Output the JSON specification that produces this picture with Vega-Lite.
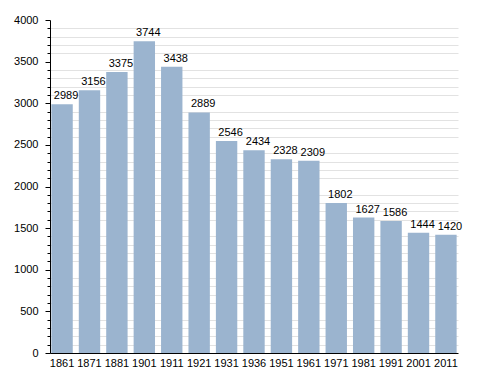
{
  "$schema": "https://vega.github.io/schema/vega-lite/v6.json",
  "width": 408,
  "height": 333,
  "autosize": {"type": "none"},
  "padding": {"left": 50, "top": 20, "right": 30, "bottom": 20},
  "background": "white",
  "config": {"view": {"stroke": null}, "font": "Liberation Sans"},
  "data": {"values": [
    {"year": "1861", "pop": 2989},
    {"year": "1871", "pop": 3156},
    {"year": "1881", "pop": 3375},
    {"year": "1901", "pop": 3744},
    {"year": "1911", "pop": 3438},
    {"year": "1921", "pop": 2889},
    {"year": "1931", "pop": 2546},
    {"year": "1936", "pop": 2434},
    {"year": "1951", "pop": 2328},
    {"year": "1961", "pop": 2309},
    {"year": "1971", "pop": 1802},
    {"year": "1981", "pop": 1627},
    {"year": "1991", "pop": 1586},
    {"year": "2001", "pop": 1444},
    {"year": "2011", "pop": 1420}
  ]},
  "encoding": {
    "x": {
      "field": "year", "type": "ordinal", "sort": null,
      "scale": {"paddingInner": 0.22, "paddingOuter": 0.05},
      "axis": {"title": null, "labelAngle": 0, "ticks": false, "domainColor": "black", "labelColor": "black", "labelFontSize": 11, "labelPadding": 4}
    }
  },
  "layer": [
    {
      "mark": {"type": "text", "baseline": "bottom", "dy": -3, "dx": 4, "fontSize": 11, "color": "black"},
      "encoding": {
        "y": {"field": "pop", "type": "quantitative", "scale": {"domain": [0, 4000], "nice": false},
          "axis": {"orient": "left", "title": null, "values": [100,200,300,400,600,700,800,900,1100,1200,1300,1400,1600,1700,1800,1900,2100,2200,2300,2400,2600,2700,2800,2900,3100,3200,3300,3400,3600,3700,3800,3900],
            "labels": false, "domain": false, "tickSize": 3, "tickColor": "black", "gridColor": "#e2e2e2", "gridWidth": 1}},
        "text": {"field": "pop", "type": "quantitative", "format": "d"}
      }
    },
    {
      "mark": {"type": "bar", "color": "#9bb4cf"},
      "encoding": {
        "y": {"field": "pop", "type": "quantitative", "scale": {"domain": [0, 4000], "nice": false},
          "axis": {"orient": "left", "title": null, "values": [0,500,1000,1500,2000,2500,3000,3500,4000], "format": "d",
            "tickSize": 5, "tickColor": "black", "domainColor": "black", "labelColor": "black", "labelFontSize": 11, "labelPadding": 7, "gridColor": "#a8a8a8", "gridWidth": 1}}
      }
    }
  ],
  "resolve": {"axis": {"y": "independent"}}
}
